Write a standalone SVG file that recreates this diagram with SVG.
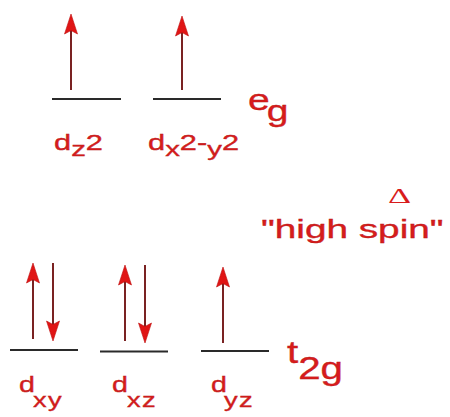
<svg xmlns="http://www.w3.org/2000/svg" width="450" height="417" viewBox="0 0 450 417">
<style>
.lvl{stroke:#2a2a2a;stroke-width:2.2;fill:none}
.sh{stroke:#7a2222;stroke-width:2;fill:none}
.hd{fill:#e01515;stroke:#c01010;stroke-width:0.6}
.t{font-family:"Liberation Sans",Arial,sans-serif;fill:#d81c1c;stroke:#b81818;stroke-width:0.35}
.m{font-size:22px}
.s{font-size:21px}
</style>
<defs>
<path id="up" d="M0,0 L6.5,20 L0,16.5 L-6.5,20 Z"/>
</defs>
<rect width="450" height="417" fill="#ffffff"/>
<g id="connectors">
<line class="sh" x1="71" y1="30" x2="71" y2="90"/>
<use href="#up" class="hd" transform="translate(71,14)"/>
<line class="sh" x1="182" y1="32" x2="182" y2="90"/>
<use href="#up" class="hd" transform="translate(182,16)"/>
<line class="sh" x1="33" y1="278" x2="33" y2="339"/>
<use href="#up" class="hd" transform="translate(33,263)"/>
<line class="sh" x1="53" y1="263" x2="53" y2="326"/>
<use href="#up" class="hd" transform="translate(53,341) rotate(180)"/>
<line class="sh" x1="125" y1="280" x2="125" y2="341"/>
<use href="#up" class="hd" transform="translate(125,265)"/>
<line class="sh" x1="145" y1="265" x2="145" y2="328"/>
<use href="#up" class="hd" transform="translate(145,343) rotate(180)"/>
<line class="sh" x1="223" y1="282" x2="223" y2="343"/>
<use href="#up" class="hd" transform="translate(223,267)"/>
</g>
<g id="dz2">
<line class="lvl" x1="52" y1="99" x2="121" y2="99"/>
<text class="t" transform="translate(54,150) scale(1.4,1)"><tspan class="m">d</tspan><tspan class="s" dy="6">z</tspan><tspan class="m" dy="-6">2</tspan></text>
</g>
<g id="dx2-y2">
<line class="lvl" x1="153" y1="99" x2="221" y2="99"/>
<text class="t" transform="translate(148,150) scale(1.4,1)"><tspan class="m">d</tspan><tspan class="s" dy="6">x</tspan><tspan class="m" dy="-6">2-</tspan><tspan class="s" dy="6">y</tspan><tspan class="m" dy="-6">2</tspan></text>
</g>
<g id="eg">
<text class="t" transform="translate(248,110) scale(1.3,1)" font-size="30"><tspan x="0" y="0">e</tspan><tspan x="14.5" y="11">g</tspan></text>
</g>
<g id="delta">
<text class="t" transform="translate(388,203) scale(1.8,1)" font-size="20" style="font-family:'Liberation Serif',serif;stroke:none">Δ</text>
</g>
<g id="highspin">
<text class="t" transform="translate(261,238) scale(1.55,1)" font-size="25">"high spin"</text>
</g>
<g id="dxy">
<line class="lvl" x1="10" y1="350" x2="78" y2="350"/>
<text class="t" transform="translate(19,392) scale(1.3,1)"><tspan class="m" x="0" y="0">d</tspan><tspan class="s" x="10.8" y="15">x</tspan><tspan class="s" x="22.3" y="15">y</tspan></text>
</g>
<g id="dxz">
<line class="lvl" x1="100" y1="351.5" x2="168" y2="351.5"/>
<text class="t" transform="translate(112,392) scale(1.3,1)"><tspan class="m" x="0" y="0">d</tspan><tspan class="s" x="11.5" y="15">x</tspan><tspan class="s" x="23" y="15">z</tspan></text>
</g>
<g id="dyz">
<line class="lvl" x1="201" y1="351" x2="269" y2="351"/>
<text class="t" transform="translate(211,392) scale(1.3,1)"><tspan class="m" x="0" y="0">d</tspan><tspan class="s" x="10" y="15">y</tspan><tspan class="s" x="21.5" y="15">z</tspan></text>
</g>
<g id="t2g">
<text class="t" transform="translate(287,363) scale(1.3,1)" font-size="31"><tspan>t</tspan><tspan dy="16">2g</tspan></text>
</g>
</svg>
